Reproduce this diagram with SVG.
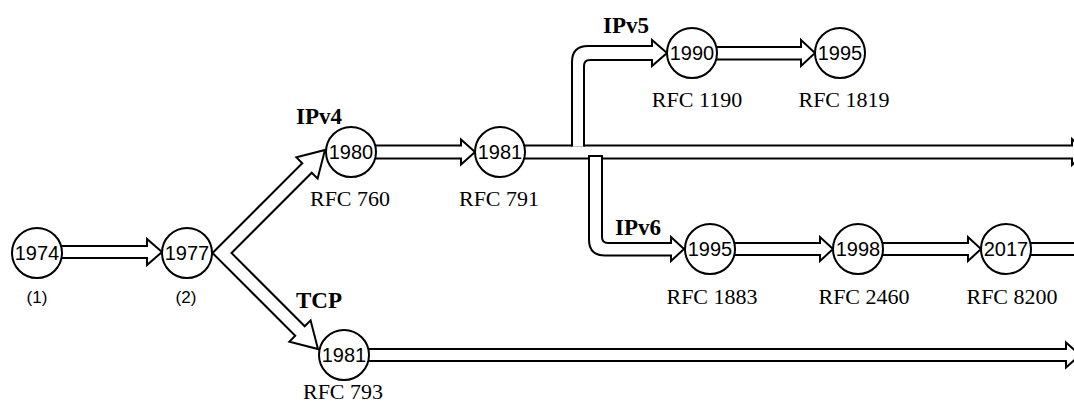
<svg xmlns="http://www.w3.org/2000/svg" width="1074" height="410" viewBox="0 0 1074 410">
<style>
.arr{fill:#fff;stroke:#000;stroke-width:2;stroke-linejoin:miter}
.node{fill:#fff;stroke:#000;stroke-width:2}
.yr{font-family:"Liberation Sans",Arial,sans-serif;font-size:20px;text-anchor:middle;fill:#000}
.num{font-family:"Liberation Sans",Arial,sans-serif;font-size:17px;text-anchor:middle;fill:#000}
.rfc{font-family:"Liberation Serif","Times New Roman",serif;font-size:22px;text-anchor:middle;fill:#000}
.lbl{font-family:"Liberation Serif","Times New Roman",serif;font-size:23px;font-weight:bold;fill:#000}
</style>
<rect width="1074" height="410" fill="#fff"/>
<g id="connectors">
  <path class="arr" d="M37,246 L147,246 L147,239 L162,252 L147,265 L147,258 L37,258 Z"/>
  <path class="arr" d="M212.5,253 L302.25,163.25 L296.4,157.4 L325,150 L317.6,178.6 L311.75,172.75 L231.5,253 L304.75,326.25 L310.6,320.4 L318,349 L289.4,341.6 L295.25,335.75 Z"/>
  <path class="arr" d="M351,145.5 L461,145.5 L461,139.5 L475,152 L461,164.5 L461,158.5 L351,158.5 Z"/>
  <path class="arr" d="M500,145.5 L1072,145.5 L1072,139 L1086,152 L1072,165 L1072,158.5 L500,158.5 Z"/>
  <path class="arr" d="M572,146.5 L572,62 Q572,46 588,46 L652,46 L652,40 L667,53 L652,66 L652,60 L590,60 Q584,60 584,66 L584,146.5"/>
  <path class="arr" d="M589,156 L602,156 L602,237 Q602,243 608,243 L671,243 L671,237 L684,249 L671,261 L671,255.5 L605,255.5 Q589,255.5 589,239.5 Z"/>
  <path class="arr" d="M692,47 L801,47 L801,40 L815,53 L801,66 L801,59.5 L692,59.5 Z"/>
  <path class="arr" d="M710,243 L820,243 L820,237 L833,249 L820,261 L820,255 L710,255 Z"/>
  <path class="arr" d="M858,243 L968,243 L968,237 L981,249 L968,261 L968,255 L858,255 Z"/>
  <path class="arr" d="M1006,243 L1080,243 L1080,255 L1006,255 Z"/>
  <path class="arr" d="M344,349 L1066,349 L1066,342.5 L1080,355 L1066,367.5 L1066,361 L344,361 Z"/>
</g>
<g id="n1974"><circle class="node" cx="37" cy="253" r="25"/><text class="yr" x="37" y="260">1974</text><text class="num" x="37" y="303">(1)</text></g>
<g id="n1977"><circle class="node" cx="187" cy="253" r="25"/><text class="yr" x="187" y="260">1977</text><text class="num" x="186" y="303">(2)</text></g>
<g id="n1980"><circle class="node" cx="351" cy="152" r="25"/><text class="yr" x="351" y="159">1980</text><text class="rfc" x="350" y="206">RFC 760</text><text class="lbl" x="296" y="124">IPv4</text></g>
<g id="n1981a"><circle class="node" cx="500" cy="152" r="25"/><text class="yr" x="500" y="159">1981</text><text class="rfc" x="499" y="206">RFC 791</text></g>
<g id="n1990"><circle class="node" cx="692" cy="53" r="25"/><text class="yr" x="692" y="60">1990</text><text class="rfc" x="697" y="107">RFC 1190</text><text class="lbl" x="603" y="33">IPv5</text></g>
<g id="n1995a"><circle class="node" cx="840" cy="53" r="25"/><text class="yr" x="840" y="60">1995</text><text class="rfc" x="844" y="107">RFC 1819</text></g>
<g id="n1995b"><circle class="node" cx="710" cy="249" r="25"/><text class="yr" x="710" y="256">1995</text><text class="rfc" x="712" y="304">RFC 1883</text><text class="lbl" x="615" y="235">IPv6</text></g>
<g id="n1998"><circle class="node" cx="858" cy="249" r="25"/><text class="yr" x="858" y="256">1998</text><text class="rfc" x="864" y="304">RFC 2460</text></g>
<g id="n2017"><circle class="node" cx="1006" cy="249" r="25"/><text class="yr" x="1006" y="256">2017</text><text class="rfc" x="1012" y="304">RFC 8200</text></g>
<g id="n1981b"><circle class="node" cx="344" cy="355" r="25"/><text class="yr" x="344" y="362">1981</text><text class="rfc" x="343" y="399">RFC 793</text><text class="lbl" x="296" y="308">TCP</text></g>
</svg>
